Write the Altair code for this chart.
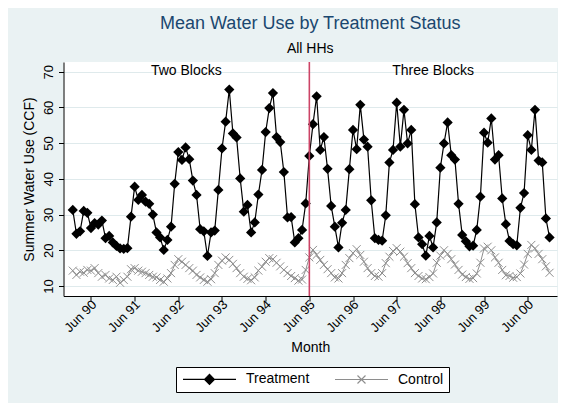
import altair as alt
import pandas as pd

# Monthly means, Jan 1990 .. Dec 2000
treatment = [
    31.3, 24.6, 25.3, 31.0, 30.5, 26.2, 27.6, 27.2, 28.3, 23.4, 24.0, 22.2,  # 1990
    21.2, 20.5, 20.4, 20.6, 29.4, 37.8, 34.1, 35.5, 33.6, 33.0, 30.0, 25.0,  # 1991
    23.6, 20.1, 22.9, 26.6, 38.6, 47.5, 45.3, 48.8, 45.5, 39.5, 35.5, 25.9,  # 1992
    25.3, 18.4, 25.0, 25.5, 36.9, 48.5, 56.0, 65.0, 52.7, 51.6, 40.1, 30.8,  # 1993
    32.7, 25.0, 27.8, 35.6, 42.5, 53.1, 59.8, 64.0, 51.7, 50.3, 41.9, 29.2,  # 1994
    29.3, 22.2, 23.4, 25.7, 33.1, 46.4, 55.3, 63.1, 48.1, 51.7, 42.8, 32.4,  # 1995
    26.6, 20.8, 27.7, 31.3, 42.7, 53.7, 48.3, 60.7, 51.0, 49.0, 34.0, 23.4,  # 1996
    22.9, 22.7, 29.8, 44.6, 48.1, 61.3, 49.0, 59.3, 49.9, 53.7, 32.9, 23.6,  # 1997
    21.7, 18.5, 24.0, 20.8, 27.8, 43.1, 49.9, 55.8, 46.6, 45.4, 33.0, 24.3,  # 1998
    22.5, 21.1, 21.3, 25.7, 35.0, 52.9, 50.1, 56.9, 45.4, 46.6, 34.5, 27.3,  # 1999
    22.6, 21.7, 21.4, 31.9, 36.0, 52.2, 48.1, 59.3, 45.1, 44.6, 28.9, 23.6,  # 2000
]
control = [
    14.3, 13.1, 14.0, 13.7, 14.5, 14.3, 15.0, 13.6, 12.6, 13.1, 12.1, 11.7,  # 1990
    12.6, 10.9, 11.7, 12.6, 14.7, 15.0, 14.3, 14.0, 13.6, 13.1, 12.6, 12.4,  # 1991
    11.7, 11.2, 12.1, 13.6, 15.9, 17.5, 16.8, 15.9, 15.0, 14.3, 13.1, 12.4,  # 1992
    11.7, 11.2, 11.9, 13.6, 15.9, 17.1, 18.0, 17.3, 16.2, 15.0, 13.6, 12.6,  # 1993
    12.0, 11.6, 12.4, 14.3, 15.4, 16.8, 17.8, 17.5, 16.5, 15.5, 14.5, 13.6,  # 1994
    12.8, 12.2, 11.5, 11.8, 14.5, 18.0, 20.1, 18.7, 17.3, 15.9, 14.7, 13.6,  # 1995
    12.4, 12.1, 13.6, 15.9, 17.8, 19.2, 20.3, 18.7, 16.8, 15.0, 13.6, 12.8,  # 1996
    12.6, 13.6, 16.4, 18.2, 19.8, 20.6, 19.6, 18.2, 16.4, 15.0, 13.6, 12.8,  # 1997
    12.1, 11.9, 12.5, 13.5, 16.5, 18.5, 20.0, 19.0, 17.5, 16.0, 14.5, 13.2,  # 1998
    12.5, 12.0, 12.2, 13.5, 16.5, 20.5, 21.0, 20.0, 18.0, 16.5, 14.5, 13.0,  # 1999
    12.8, 12.3, 12.5, 13.5, 16.0, 19.0, 21.5, 20.5, 19.0, 17.5, 15.5, 13.7,  # 2000
]
series_names = ["Treatment", "Control"]
tick_months = [5, 17, 29, 41, 53, 65, 77, 89, 101, 113, 125]  # June of each year
tick_labels = ["Jun 90", "Jun 91", "Jun 92", "Jun 93", "Jun 94", "Jun 95",
               "Jun 96", "Jun 97", "Jun 98", "Jun 99", "Jun 00"]
y_ticks = [10, 20, 30, 40, 50, 60, 70]
policy_month = [65]  # Jun 95
block_labels = ["Two Blocks", "Three Blocks"]
block_month = [31.2, 99.0]
block_y = [70.2, 70.2]

FONT = "Liberation Sans"
BLACK = "#000000"
GRAY = "#8E8E8E"

months = list(range(len(treatment)))
df_t = pd.DataFrame({"m": months, "v": treatment})
df_c = pd.DataFrame({"m": months, "v": control})
df_rule = pd.DataFrame({"m": policy_month})
df_text = pd.DataFrame({"m": block_month, "v": block_y, "label": block_labels})
df_leg = pd.DataFrame({"m": [-60, -60], "v": [40, 40], "series": series_names})

label_expr = "[" + ",".join("'%s'" % s for s in tick_labels) + "][round((datum.value - 5) / 12)]"

x_axis = alt.Axis(values=tick_months, labelExpr=label_expr, title="Month",
                  grid=False, labelAngle=315, labelAlign="right",
                  labelBaseline="middle", tickSize=5, labelPadding=1, labelOffset=3,
                  labelOverlap=False,
                  labelFontSize=13, titleFontSize=14, titlePadding=6)
y_axis = alt.Axis(values=y_ticks, title="Summer Water Use (CCF)",
                  grid=True, labelAngle=270, tickSize=5, labelPadding=3,
                  labelOverlap=False, labelBound=False, labelFlush=False,
                  labelFontSize=13, titleFontSize=14, titlePadding=6)
x_scale = alt.Scale(domain=[-2.55, 133.05], nice=False, zero=False)
y_scale = alt.Scale(domain=[7.2, 72.7], nice=False, zero=False)


def xy():
    return dict(x=alt.X("m:Q", scale=x_scale, axis=x_axis),
                y=alt.Y("v:Q", scale=y_scale, axis=y_axis))


line_t = alt.Chart(df_t).mark_line(color=BLACK, strokeWidth=1.2).encode(**xy())
pts_t = alt.Chart(df_t).mark_point(shape="diamond", filled=True, color=BLACK,
                                   size=105, opacity=1).encode(**xy())
line_c = alt.Chart(df_c).mark_line(color=GRAY, strokeWidth=1).encode(**xy())
pts_c = alt.Chart(df_c).mark_point(shape="M-1,-1L1,1M-1,1L1,-1", filled=False, color=GRAY,
                                   size=64, strokeWidth=1, opacity=1).encode(**xy())
rule = alt.Chart(df_rule).mark_rule(color="#CC4466", strokeWidth=1.6).encode(
    x=alt.X("m:Q", scale=x_scale, axis=x_axis))
texts = alt.Chart(df_text).mark_text(font=FONT, fontSize=14, color=BLACK,
                                     baseline="middle").encode(text="label:N", **xy())

path_t = "M-1,0H9.6M3.3,0L4.3,-1L5.3,0L4.3,1Z"
path_c = "M-1,0H9.6M3.5,-0.8L5.1,0.8M3.5,0.8L5.1,-0.8"
leg_scale_dom = series_names
legend = alt.Legend(orient="none", legendX=112.5, legendY=305, direction="horizontal",
                    title=None, fillColor="white", strokeColor=BLACK, padding=5,
                    symbolSize=100, symbolStrokeWidth=1.1, labelFontSize=14,
                    labelFont=FONT, labelColor=BLACK, labelOffset=51, columnPadding=22,
                    cornerRadius=0)
leg_layer = alt.Chart(df_leg).mark_point(filled=True, clip=True, size=100, opacity=1,
                                         strokeWidth=1.1).encode(
    color=alt.Color("series:N", scale=alt.Scale(domain=leg_scale_dom, range=[BLACK, GRAY]),
                    legend=legend),
    stroke=alt.Stroke("series:N", scale=alt.Scale(domain=leg_scale_dom, range=[BLACK, GRAY]),
                      legend=legend),
    shape=alt.Shape("series:N", scale=alt.Scale(domain=leg_scale_dom, range=[path_t, path_c]),
                    legend=legend),
    **xy()
)

chart = alt.layer(line_c, pts_c, line_t, pts_t, rule, texts, leg_layer).properties(
    width=493.5, height=234,
    title=alt.Title("Mean Water Use by Treatment Status", subtitle="All HHs",
                    font=FONT, fontSize=18, fontWeight="normal", color="#1A476F",
                    subtitleFont=FONT, subtitleFontSize=14, subtitleColor=BLACK,
                    anchor="middle", offset=5, subtitlePadding=9),
    autosize=alt.AutoSizeParams(type="none"),
    padding={"left": 55.5, "top": 54, "right": 1, "bottom": 107},
    background="#EAF2F3",
).configure_view(stroke=None, fill="white").configure_axis(
    domainColor=BLACK, tickColor=BLACK, labelColor=BLACK, titleColor=BLACK,
    labelFont=FONT, titleFont=FONT, gridColor="#DFEAEC", gridWidth=1,
    titleFontWeight="normal", domainWidth=1, tickWidth=1,
)

chart.save("out.html", embed_options={"renderer": "svg", "actions": False})
